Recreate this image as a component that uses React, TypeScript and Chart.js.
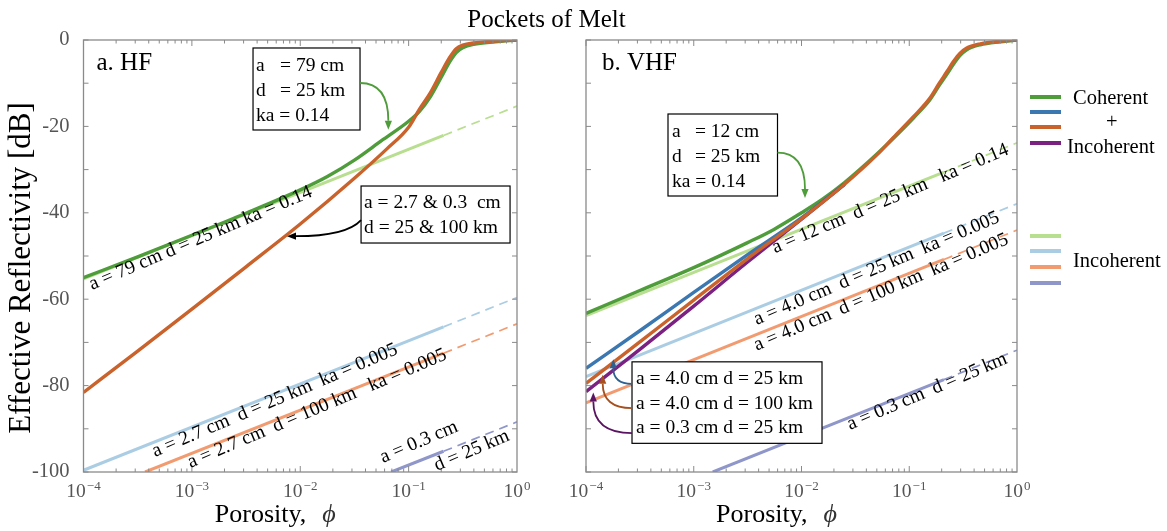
import { useEffect, useRef } from 'react';
import { Chart, registerables } from 'chart.js';

Chart.register(...registerables);

const FONT = "'Liberation Serif', 'Times New Roman', serif";

// ---------------- axes ----------------
const xDecades = [1e-4, 1e-3, 1e-2, 1e-1, 1];
const xTickBase = ['10', '10', '10', '10', '10'];
const xTickExponents = ['−4', '−3', '−2', '−1', '0'];
const yTickValues = [-100, -80, -60, -40, -20, 0];
const yMinorTicks = [-100, -90, -80, -70, -60, -50, -40, -30, -20, -10, 0];
const xMinorMultipliers = [1, 2, 3, 4, 5, 6, 7, 8, 9];

// ---------------- panel a: HF ----------------
const hfCoherentPhi = [1e-4, 3.16e-4, 1e-3, 3.16e-3, 1e-2, 1.78e-2, 3.16e-2, 5.62e-2, 0.1, 0.126, 0.158, 0.2, 0.24, 0.275, 0.316, 0.398, 0.631, 1];
const hfCoherentDb = [-55.0, -50.2, -45.2, -40.1, -34.7, -31.6, -27.8, -23.3, -18.8, -16.5, -13.2, -8.6, -5.0, -2.9, -1.8, -1.0, -0.4, 0];

const hfCohIncPhi = [1e-4, 3.16e-4, 1e-3, 3.16e-3, 1e-2, 3.16e-2, 6.3e-2, 0.1, 0.126, 0.158, 0.2, 0.24, 0.275, 0.316, 0.398, 0.631, 1];
const hfCohIncDb = [-81.6, -72.0, -62.3, -52.5, -42.6, -32.0, -25.2, -20.2, -16.0, -12.3, -7.5, -4.0, -2.0, -1.2, -0.7, -0.25, 0];

// incoherent lines: [start, end of solid part, end of dashed part]
const hfInc79Phi = [1e-4, 0.21, 1];
const hfInc79Db = [-55.3, -22.1, -15.3];
const hfInc27d25Phi = [1e-4, 0.21, 1];
const hfInc27d25Db = [-99.6, -66.4, -59.6];
const hfInc27d100Phi = [3.7e-4, 0.21, 1];
const hfInc27d100Db = [-100.0, -72.5, -65.7];
const hfInc03Phi = [6.9e-2, 0.21, 1];
const hfInc03Db = [-100.0, -95.2, -88.4];

// ---------------- panel b: VHF ----------------
const vhfCoherentPhi = [1e-4, 3.16e-4, 1e-3, 3.16e-3, 5.5e-3, 1e-2, 1.58e-2, 2.51e-2, 3.47e-2, 5.01e-2, 7.1e-2, 0.11, 0.155, 0.19, 0.224, 0.257, 0.295, 0.339, 0.457, 0.708, 1];
const vhfCoherentDb = [-63.3, -58.0, -52.7, -46.9, -43.9, -40.0, -36.8, -33.0, -30.0, -26.4, -22.8, -18.0, -13.9, -10.5, -7.9, -5.6, -3.6, -2.3, -1.1, -0.4, 0];

const vhfCohInc40d100Phi = [1e-4, 3.16e-4, 1e-3, 3.16e-3, 1e-2, 2.51e-2, 5.01e-2, 7.1e-2, 0.11, 0.155, 0.19, 0.224, 0.257, 0.295, 0.339, 0.457, 0.708, 1];
const vhfCohInc40d100Db = [-79.5, -69.9, -60.2, -50.6, -41.4, -33.4, -26.6, -22.6, -17.7, -13.5, -10.0, -7.3, -5.0, -3.1, -1.9, -0.9, -0.3, 0];

const vhfCohInc40d25Phi = [1e-4, 3.16e-4, 1e-3, 3.16e-3, 1e-2, 2.51e-2];
const vhfCohInc40d25Db = [-76.0, -67.3, -58.4, -49.7, -41.2, -33.4];

const vhfCohInc03d25Phi = [1e-4, 3.16e-4, 1e-3, 3.16e-3, 1e-2, 2.51e-2];
const vhfCohInc03d25Db = [-81.4, -71.6, -61.6, -51.4, -41.5, -33.4];

const vhfInc12Phi = [1e-4, 0.21, 1];
const vhfInc12Db = [-63.8, -30.6, -23.8];
const vhfInc40d25Phi = [1e-4, 0.21, 1];
const vhfInc40d25Db = [-77.9, -44.7, -37.9];
const vhfInc40d100Phi = [1e-4, 0.21, 1];
const vhfInc40d100Db = [-84.0, -50.8, -44.0];
const vhfInc03Phi = [1.5e-3, 0.21, 1];
const vhfInc03Db = [-100.0, -78.6, -71.8];

// ---------------- colours ----------------
const C = {
  darkGreen: '#4e9c3a',
  blue: '#3b77b1',
  orange: '#c9622b',
  purple: '#7a2182',
  lightGreen: '#b8de90',
  lightBlue: '#abcde4',
  salmon: '#f29b70',
  periwinkle: '#8f96c9',
  frame: '#8a8a8a',
  tickText: '#555555',
  arrowBlue: '#2d618f',
  arrowOrange: '#a6501e',
  arrowPurple: '#5a1462',
};

const pts = (phi: number[], db: number[]) => phi.map((p, i) => ({ x: p, y: db[i] }));

const curve = (phi: number[], db: number[], color: string) => ({
  data: pts(phi, db),
  borderColor: color,
  borderWidth: 3.4,
  pointRadius: 0,
  fill: false,
  cubicInterpolationMode: 'monotone',
});

const incoherent = (phi: number[], db: number[], color: string) => [
  { data: pts(phi.slice(0, 2), db.slice(0, 2)), borderColor: color, borderWidth: 3, pointRadius: 0, fill: false },
  { data: pts(phi.slice(1), db.slice(1)), borderColor: color, borderWidth: 1.7, pointRadius: 0, fill: false, borderDash: [9, 6] },
];

function drawArrow(ctx: CanvasRenderingContext2D, sx: number, sy: number, tx: number, ty: number, mode: string, color: string) {
  const head = 9;
  const hw = 3.6;
  let dirx = 0, diry = 0, ex = 0, ey = 0, cx = 0, cy = 0;
  if (mode === 'h') {
    diry = Math.sign(ty - sy);
    ex = tx; ey = ty - diry * head; cx = tx; cy = sy;
  } else {
    dirx = Math.sign(tx - sx);
    ex = tx - dirx * head; ey = ty; cx = sx + (tx - sx) * 0.2; cy = ty;
  }
  ctx.save();
  ctx.strokeStyle = color;
  ctx.fillStyle = color;
  ctx.lineWidth = 1.8;
  ctx.beginPath();
  ctx.moveTo(sx, sy);
  ctx.quadraticCurveTo(cx, cy, ex, ey);
  ctx.stroke();
  const px = -diry, py = dirx;
  ctx.beginPath();
  ctx.moveTo(tx, ty);
  ctx.lineTo(ex + px * hw, ey + py * hw);
  ctx.lineTo(ex - px * hw, ey - py * hw);
  ctx.closePath();
  ctx.fill();
  ctx.restore();
}

function makeDecor(cfg: any) {
  return {
    id: 'decor',
    afterDatasetsDraw(chart: any) {
      const { ctx, chartArea: ca, scales } = chart;
      const xs = scales.x, ys = scales.y;
      const X = (v: number) => xs.getPixelForValue(v);
      const Y = (v: number) => ys.getPixelForValue(v);
      ctx.save();
      // frame
      ctx.strokeStyle = C.frame;
      ctx.lineWidth = 1.3;
      ctx.strokeRect(ca.left, ca.top, ca.right - ca.left, ca.bottom - ca.top);
      // inward ticks
      ctx.lineWidth = 1;
      ctx.beginPath();
      xDecades.forEach((d, i) => {
        if (i === xDecades.length - 1) return;
        xMinorMultipliers.forEach((m) => {
          const px = X(d * m);
          const len = m === 1 ? 6 : 3.5;
          ctx.moveTo(px, ca.bottom); ctx.lineTo(px, ca.bottom - len);
          ctx.moveTo(px, ca.top); ctx.lineTo(px, ca.top + len);
        });
      });
      yMinorTicks.forEach((v) => {
        const py = Y(v);
        ctx.moveTo(ca.left, py); ctx.lineTo(ca.left + 5, py);
        ctx.moveTo(ca.right, py); ctx.lineTo(ca.right - 5, py);
      });
      ctx.stroke();

      // x tick labels with superscript exponents
      ctx.fillStyle = C.tickText;
      ctx.textAlign = 'left';
      ctx.textBaseline = 'alphabetic';
      xDecades.forEach((d, i) => {
        ctx.font = `19.5px ${FONT}`;
        const wb = ctx.measureText(xTickBase[i]).width;
        ctx.font = `13px ${FONT}`;
        const we = ctx.measureText(xTickExponents[i]).width;
        const x0 = X(d) - (wb + 1 + we) / 2;
        ctx.font = `19.5px ${FONT}`;
        ctx.fillText(xTickBase[i], x0, 497);
        ctx.font = `13px ${FONT}`;
        ctx.fillText(xTickExponents[i], x0 + wb + 1, 490);
      });

      // rotated line labels
      ctx.fillStyle = '#000';
      ctx.font = `19.5px ${FONT}`;
      cfg.labels.forEach((l: any) => {
        ctx.save();
        ctx.translate(X(l.phi), Y(l.db));
        ctx.rotate(-cfg.labelAngle * Math.PI / 180);
        ctx.fillText(l.text, 0, 0);
        ctx.restore();
      });

      // boxes with arrows
      cfg.boxes.forEach((b: any) => {
        const bx = X(b.phi), by = Y(b.db);
        ctx.fillStyle = '#fff';
        ctx.fillRect(bx, by, b.w, b.h);
        ctx.strokeStyle = '#000';
        ctx.lineWidth = 1.2;
        ctx.strokeRect(bx, by, b.w, b.h);
        ctx.fillStyle = '#000';
        ctx.font = `19.5px ${FONT}`;
        ctx.textBaseline = 'middle';
        b.lines.forEach((ln: string[], i: number) => {
          ctx.fillText(ln[0], bx + b.pad, by + b.lineY[i]);
          if (ln[1]) ctx.fillText(ln[1], bx + b.col2, by + b.lineY[i]);
        });
        b.arrows.forEach((a: any) => {
          const sx = a.side === 'right' ? bx + b.w : bx;
          drawArrow(ctx, sx, by + a.dy, X(a.tipPhi), Y(a.tipDb), a.mode, a.color);
        });
      });

      // panel label
      ctx.fillStyle = '#000';
      ctx.textBaseline = 'alphabetic';
      ctx.font = `25px ${FONT}`;
      ctx.fillText(cfg.panelLabel, ca.left + cfg.labelDx, ca.top + 29.5);

      // x title
      ctx.font = `26px ${FONT}`;
      const w1 = ctx.measureText('Porosity,').width;
      ctx.font = `italic 26px ${FONT}`;
      const w2 = ctx.measureText('ϕ').width;
      const gap = 16;
      const cx = (ca.left + ca.right) / 2 - 25;
      const start = cx - (w1 + gap + w2) / 2;
      ctx.font = `26px ${FONT}`;
      ctx.fillStyle = '#000';
      ctx.fillText('Porosity,', start, 521.5);
      ctx.font = `italic 26px ${FONT}`;
      ctx.fillStyle = '#333';
      ctx.fillText('ϕ', start + w1 + gap, 521.5);

      // y title
      if (cfg.yTitle) {
        ctx.save();
        ctx.fillStyle = '#000';
        ctx.font = `31px ${FONT}`;
        ctx.translate(22, 268);
        ctx.rotate(-Math.PI / 2);
        ctx.textAlign = 'center';
        ctx.textBaseline = 'middle';
        ctx.fillText(cfg.yTitle, 0, 0);
        ctx.restore();
      }
      ctx.restore();
    },
  };
}

function buildConfig(datasets: any[], decor: any, yWidth: number, padRight: number, showYLabels: boolean): any {
  return {
    type: 'line',
    data: { datasets },
    options: {
      animation: false,
      responsive: false,
      maintainAspectRatio: false,
      layout: { padding: { top: 40, right: padRight, left: 0, bottom: 0 } },
      plugins: { legend: { display: false }, tooltip: { enabled: false } },
      scales: {
        x: {
          type: 'logarithmic',
          min: 1e-4,
          max: 1,
          grid: { display: false },
          border: { display: false },
          afterBuildTicks: (s: any) => { s.ticks = xDecades.map((v) => ({ value: v })); },
          ticks: { autoSkip: false, maxRotation: 0, minRotation: 0, callback: () => '' },
          afterFit: (s: any) => { s.height = 59; s.paddingLeft = 0; s.paddingRight = 0; },
        },
        y: {
          type: 'linear',
          min: -100,
          max: 0,
          grid: { display: false },
          border: { display: false },
          afterBuildTicks: (s: any) => { s.ticks = yTickValues.map((v) => ({ value: v })); },
          ticks: {
            padding: 6,
            color: C.tickText,
            font: { family: FONT, size: 20.5 },
            callback: (v: number) => (showYLabels ? String(v) : ''),
          },
          afterFit: (s: any) => { s.width = yWidth; s.paddingTop = 0; s.paddingBottom = 0; },
        },
      },
    },
    plugins: [makeDecor(decor)],
  };
}

const hfDatasets = [
  curve(hfCohIncPhi, hfCohIncDb, C.orange),
  curve(hfCoherentPhi, hfCoherentDb, C.darkGreen),
  ...incoherent(hfInc79Phi, hfInc79Db, C.lightGreen),
  ...incoherent(hfInc27d25Phi, hfInc27d25Db, C.lightBlue),
  ...incoherent(hfInc27d100Phi, hfInc27d100Db, C.salmon),
  ...incoherent(hfInc03Phi, hfInc03Db, C.periwinkle),
];

const vhfDatasets = [
  curve(vhfCohInc40d100Phi, vhfCohInc40d100Db, C.orange),
  curve(vhfCohInc03d25Phi, vhfCohInc03d25Db, C.purple),
  curve(vhfCohInc40d25Phi, vhfCohInc40d25Db, C.blue),
  curve(vhfCoherentPhi, vhfCoherentDb, C.darkGreen),
  ...incoherent(vhfInc12Phi, vhfInc12Db, C.lightGreen),
  ...incoherent(vhfInc40d25Phi, vhfInc40d25Db, C.lightBlue),
  ...incoherent(vhfInc40d100Phi, vhfInc40d100Db, C.salmon),
  ...incoherent(vhfInc03Phi, vhfInc03Db, C.periwinkle),
];

const hfDecor = {
  panelLabel: 'a. HF',
  labelDx: 13,
  labelAngle: 23,
  yTitle: 'Effective Reflectivity [dB]',
  boxes: [
    {
      phi: 3.667e-3, db: -1.85, w: 107, h: 82, pad: 3, col2: 27, lineY: [17.7, 42.7, 67.7],
      lines: [['a', '= 79 cm'], ['d', '= 25 km'], ['ka = 0.14']],
      arrows: [{ side: 'right', dy: 35, tipPhi: 0.065, tipDb: -20.8, mode: 'h', color: C.darkGreen }],
    },
    {
      phi: 3.64e-2, db: -33.8, w: 149, h: 57, pad: 3, col2: 0, lineY: [17, 42],
      lines: [['a = 2.7 & 0.3  cm'], ['d = 25 & 100 km']],
      arrows: [{ side: 'left', dy: 34, tipPhi: 7.55e-3, tipDb: -45.4, mode: 'v', color: '#000' }],
    },
  ],
  labels: [
    { phi: 1.198e-4, db: -57.87, text: 'a = 79 cm d = 25 km ka = 0.14' },
    { phi: 4.569e-4, db: -96.53, text: 'a = 2.7 cm  d = 25 km  ka = 0.005' },
    { phi: 9.716e-4, db: -99.07, text: 'a = 2.7 cm  d = 100 km   ka = 0.005' },
    { phi: 5.808e-2, db: -97.92, text: 'a = 0.3 cm' },
    { phi: 0.1831, db: -99.77, text: 'd = 25 km' },
  ],
};

const vhfDecor = {
  panelLabel: 'b. VHF',
  labelDx: 16,
  labelAngle: 23,
  yTitle: '',
  boxes: [
    {
      phi: 5.768e-4, db: -17.13, w: 109.5, h: 82, pad: 4, col2: 27, lineY: [18.3, 42.7, 67.7],
      lines: [['a', '= 12 cm'], ['d', '= 25 km'], ['ka = 0.14']],
      arrows: [{ side: 'right', dy: 38.7, tipPhi: 1.0776e-2, tipDb: -36.6, mode: 'h', color: C.darkGreen }],
    },
    {
      phi: 2.673e-4, db: -74.5, w: 190, h: 81.5, pad: 4, col2: 0, lineY: [17.3, 42, 66.3],
      lines: [['a = 4.0 cm d = 25 km'], ['a = 4.0 cm d = 100 km'], ['a = 0.3 cm d = 25 km']],
      arrows: [
        { side: 'left', dy: 22, tipPhi: 1.792e-4, tipDb: -73.9, mode: 'h', color: C.arrowBlue },
        { side: 'left', dy: 46.3, tipPhi: 1.429e-4, tipDb: -77.5, mode: 'h', color: C.arrowOrange },
        { side: 'left', dy: 71.3, tipPhi: 1.169e-4, tipDb: -81.6, mode: 'h', color: C.arrowPurple },
      ],
    },
  ],
  labels: [
    { phi: 5.677e-3, db: -49.38, text: 'a = 12 cm  d = 25 km   ka = 0.14' },
    { phi: 3.838e-3, db: -65.97, text: 'a = 4.0 cm  d = 25 km  ka = 0.005' },
    { phi: 3.838e-3, db: -71.92, text: 'a = 4.0 cm  d = 100 km  ka = 0.005' },
    { phi: 2.818e-2, db: -90.28, text: 'a = 0.3 cm  d = 25 km' },
  ],
};

const darkLegend = [C.darkGreen, C.blue, C.orange, C.purple];
const lightLegend = [C.lightGreen, C.lightBlue, C.salmon, C.periwinkle];

export default function App() {
  const refA = useRef<HTMLCanvasElement>(null);
  const refB = useRef<HTMLCanvasElement>(null);

  useEffect(() => {
    const a = new Chart(refA.current as HTMLCanvasElement, buildConfig(hfDatasets, hfDecor, 83.5, 28, true));
    const b = new Chart(refB.current as HTMLCanvasElement, buildConfig(vhfDatasets, vhfDecor, 41, 150, false));
    return () => { a.destroy(); b.destroy(); };
  }, []);

  const txt = (left: number, top: number, s: string, size = 20.5) => (
    <div style={{ position: 'absolute', left, top, fontSize: size, lineHeight: `${size}px`, whiteSpace: 'nowrap', color: '#000' }}>{s}</div>
  );

  return (
    <div style={{ position: 'fixed', left: 0, top: 0, width: 1167, height: 531, background: '#fff', fontFamily: FONT, overflow: 'hidden' }}>
      <canvas ref={refA} width={545} height={531} style={{ position: 'absolute', left: 0, top: 0 }} />
      <canvas ref={refB} width={622} height={531} style={{ position: 'absolute', left: 545, top: 0 }} />
      <div style={{ position: 'absolute', left: 0, top: 6, width: 1093, textAlign: 'center', fontSize: 25, lineHeight: '25px', color: '#000' }}>Pockets of Melt</div>
      {darkLegend.map((c, i) => (
        <div key={'d' + i} style={{ position: 'absolute', left: 1030, top: [95.3, 109.7, 125.3, 141.3][i], width: 31, height: 4, background: c }} />
      ))}
      {txt(1073, 86.5, 'Coherent')}
      {txt(1106, 111, '+')}
      {txt(1067, 136, 'Incoherent')}
      {lightLegend.map((c, i) => (
        <div key={'l' + i} style={{ position: 'absolute', left: 1030, top: [234, 248.7, 264.7, 280.7][i], width: 31, height: 4, background: c }} />
      ))}
      {txt(1073, 249.5, 'Incoherent')}
    </div>
  );
}
